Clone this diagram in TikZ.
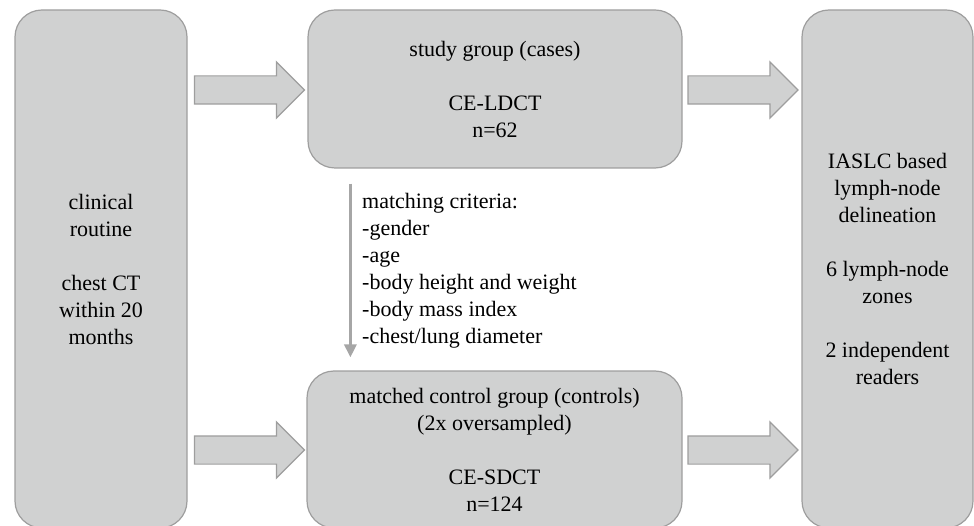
\documentclass[tikz,border=0pt]{standalone}
\usepackage{fontspec}
\setmainfont{Liberation Serif}
\usepackage{xcolor}
\definecolor{boxgray}{RGB}{208,209,209}
\definecolor{edgegray}{RGB}{158,158,158}
\definecolor{linkgray}{RGB}{166,166,166}
\usepackage{tikz}
\usetikzlibrary{
    arrows.meta,
    shapes.arrows,
    positioning,
    calc
}
\tikzstyle{stage} = [
    rectangle,
    rounded corners=27pt,
    draw=edgegray,
    line width=1.2pt,
    fill=boxgray,
    align=center,
    inner sep=0pt,
    font=\fontsize{22}{27}\selectfont
]
\tikzstyle{flow} = [
    single arrow,
    draw=edgegray,
    line width=1.2pt,
    fill=boxgray,
    minimum height=110pt,
    inner xsep=0pt,
    inner ysep=13.5pt,
    single arrow head extend=14pt
]
\tikzstyle{matcharrow} = [
    -{Triangle[length=13pt,width=12pt]},
    line width=3.5pt,
    draw=linkgray
]

\begin{document}
\begin{tikzpicture}[x=1pt, y=-1pt]
        \useasboundingbox (0,0) rectangle (974,526);

        % Input side
        \node[stage, minimum width=172pt, minimum height=518pt] (routine) at (101,269)
            {clinical\\ routine\\[27pt] chest CT\\ within 20\\ months};

        % Groups
        \node[stage, minimum width=374pt, minimum height=158pt] (study) at (495,89)
            {study group (cases)\\[27pt] CE-LDCT\\ n=62};
        \node[stage, minimum width=375pt, minimum height=157pt] (control) at (494.5,449.5)
            {matched control group (controls)\\ (2x oversampled)\\[27pt] CE-SDCT\\ n=124};

        % Output side
        \node[stage, minimum width=171pt, minimum height=518pt] (reading) at (887.5,269)
            {IASLC based\\ lymph-node\\ delineation\\[27pt] 6 lymph-node\\ zones\\[27pt] 2 independent\\ readers};

        % Block arrows
        \node[flow] (in_study) at (242.5,90) {};
        \node[flow] (in_control) at (242.5,450) {};
        \node[flow] (out_study) at (736,90) {};
        \node[flow] (out_control) at (736,450) {};

        % Matching
        \coordinate (match_top) at ($(study.south west)+(43,15)$);
        \coordinate (match_end) at ($(control.north west)+(44,-13)$);
        \draw[matcharrow] (match_top) -- (match_end);
        \node[anchor=north west, align=left, inner sep=0pt,
              font=\fontsize{22}{27}\selectfont] (criteria) at (362,193)
            {matching criteria:\\ -gender\\ -age\\ -body height and weight\\ -body mass index\\ -chest/lung diameter};
    \end{tikzpicture}
\end{document}
